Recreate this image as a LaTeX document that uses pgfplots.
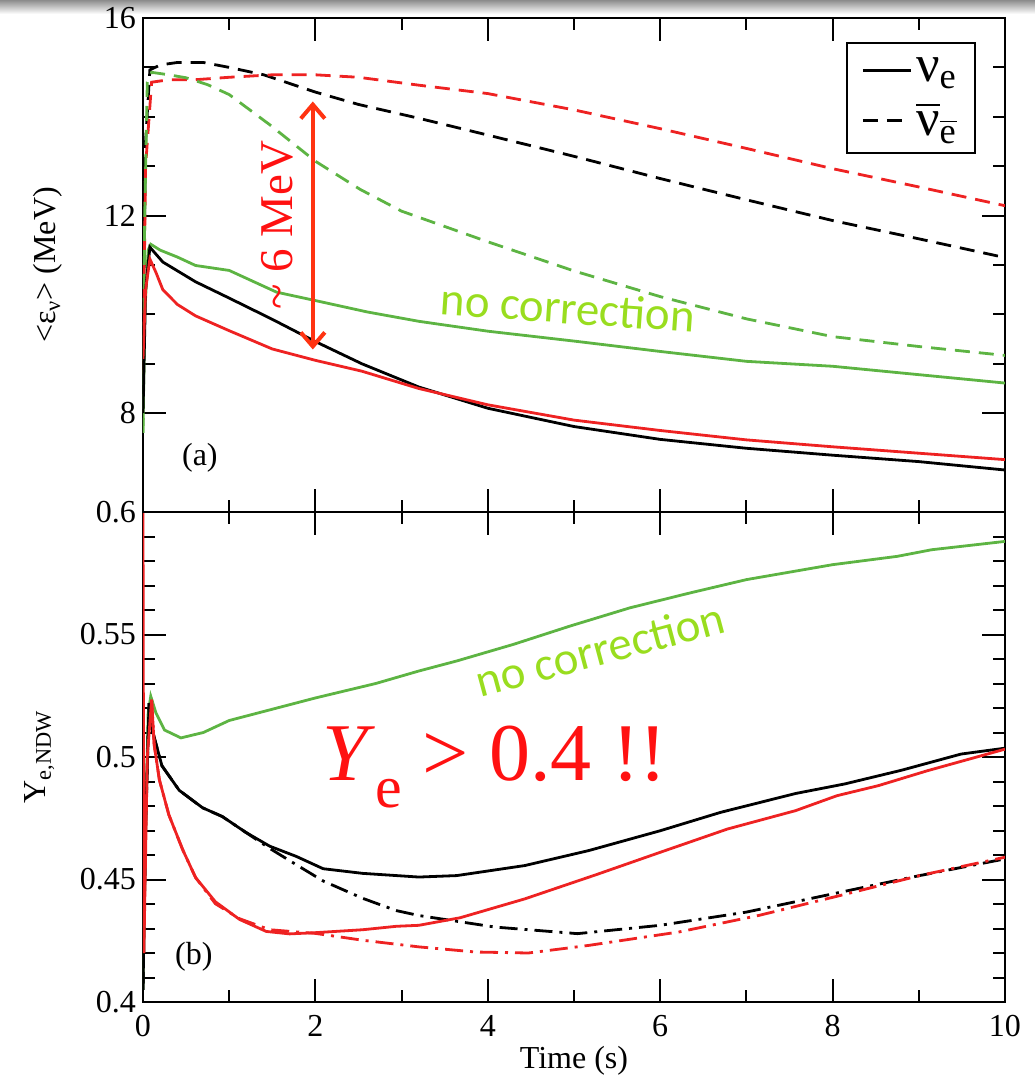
\documentclass[border=0pt]{standalone}
\usepackage{fontspec}
\setmainfont{Liberation Serif}
\newfontfamily\tnr{Liberation Serif}
\newfontfamily\calib{Carlito}
\usepackage{amsmath}
\usepackage{pgfplots}
\pgfplotsset{compat=1.18}
\usetikzlibrary{arrows.meta}
\definecolor{cred}{HTML}{EE2222}
\definecolor{cgreen}{HTML}{5DB443}
\definecolor{nocorr}{HTML}{99DD1F}
\definecolor{arrred}{HTML}{FF3311}
\definecolor{txtred}{HTML}{FF1111}

\pgfplotsset{
  panel/.style={
    scale only axis, width=431pt, xmin=0, xmax=10,
    tick align=inside, tick pos=both,
    xtick={0,2,...,10}, minor x tick num=1,
    major tick length=11.5pt, minor tick length=6pt,
    tick style={black, line width=1pt},
    axis line style={line width=1.25pt},
    ticklabel style={font=\tnr\fontsize{16}{19}\selectfont},
    xticklabel style={yshift=-3pt},
    label style={font=\tnr\fontsize{16}{19}\selectfont},
    every axis plot/.append style={line width=1.4pt},
  },
  dashsty/.style={dash pattern=on 7.5pt off 4.5pt},
  dotsty/.style={dash pattern=on 9pt off 3.5pt on 1.5pt off 3.5pt},
}

\begin{document}
\begin{tikzpicture}
\useasboundingbox (-71.5pt,-41pt) rectangle (446pt,501pt);
\shade[top color=black!45, bottom color=white] (-71.5pt,494pt) rectangle (446pt,501pt);

% (b) electron fraction
\begin{axis}[panel, at={(0,0)}, anchor=south west, height=245pt,
  ymin=0.4, ymax=0.6, ytick={0.4,0.45,0.5,0.55,0.6},
  yticklabels={0.4,0.45,0.5,0.55,0.6}, minor y tick num=4,
  xticklabels={0,2,4,6,8,10},
  xlabel={Time (s)},
  xlabel style={at={(axis description cs:0.5,0)}, anchor=center, yshift=-29.5pt},
  ylabel={Y\textsubscript{e,NDW}},
  ylabel style={at={(axis description cs:-0.12,0.5)}, anchor=center},
]
\addplot[cgreen] coordinates {(0,0.405) (0.03,0.47) (0.06,0.518) (0.09,0.5248) (0.15,0.518) (0.25,0.511) (0.44,0.5078) (0.7,0.510) (1.0,0.5149) (1.5,0.5195) (2.0,0.5241) (2.7,0.530) (3.2,0.5351) (3.64,0.5392) (4.3,0.546) (4.95,0.5534) (5.65,0.5609) (6.35,0.567) (7.0,0.5724) (8.0,0.5785) (8.75,0.5819) (9.15,0.5846) (10,0.588)};
\addplot[black] coordinates {(0,0.405) (0.03,0.47) (0.07,0.522) (0.11,0.5106) (0.22,0.4964) (0.42,0.4864) (0.69,0.4793) (0.92,0.4757) (1.19,0.4693) (1.47,0.4636) (1.78,0.4594) (2.09,0.4544) (2.55,0.4525) (3.2,0.451) (3.64,0.4516) (4.43,0.4557) (5.17,0.4618) (6.0,0.4699) (6.7,0.4774) (7.57,0.4851) (8.14,0.489) (8.8,0.4946) (9.49,0.5012) (10,0.5036)};
\addplot[black, dotsty] coordinates {(0,0.405) (0.03,0.47) (0.07,0.522) (0.11,0.5106) (0.22,0.4964) (0.42,0.4864) (0.69,0.4793) (0.92,0.4757) (1.19,0.4693) (1.47,0.4627) (1.78,0.456) (2.09,0.4494) (2.55,0.4423) (2.94,0.4373) (3.2,0.4353) (4.08,0.4306) (5.04,0.4279) (6.0,0.4313) (7.0,0.4367) (8.01,0.4442) (9.01,0.4516) (10,0.4584)};
\addplot[cred] coordinates {(0,0.6) (0.01,0.42) (0.05,0.50) (0.1,0.5234) (0.13,0.5049) (0.19,0.4907) (0.3,0.4764) (0.46,0.4622) (0.61,0.4508) (0.84,0.4409) (1.12,0.4337) (1.43,0.4288) (1.7,0.4278) (2.0,0.4283) (2.55,0.4295) (2.94,0.4309) (3.2,0.4313) (3.68,0.4344) (4.43,0.4421) (5.26,0.452) (6.0,0.4611) (6.78,0.4706) (7.57,0.4781) (8.05,0.4842) (8.53,0.4883) (9.1,0.4944) (10,0.5032)};
\addplot[cred, dotsty] coordinates {(0.1,0.5234) (0.13,0.5049) (0.19,0.4907) (0.3,0.4764) (0.46,0.4622) (0.61,0.4508) (0.84,0.4401) (1.12,0.434) (1.47,0.4295) (2.0,0.428) (2.55,0.4252) (3.2,0.4225) (3.86,0.4204) (4.47,0.42) (5.17,0.4231) (6.22,0.4286) (7.14,0.4353) (8.01,0.4428) (9.01,0.4516) (10,0.4591)};
\node[font=\tnr\fontsize{16}{19}\selectfont] at (axis cs:0.59,0.4184) {(b)};
\node[rotate=15, text=nocorr, font=\calib\fontsize{23.5}{26}\selectfont] at (axis cs:5.3,0.544) {no correction};
\node[anchor=base west, text=txtred, font=\tnr\fontsize{41}{46}\selectfont, inner sep=0pt] at (axis cs:2.08,0.4906) {\textit{Y}\raisebox{-0.34em}{\fontsize{30}{30}\selectfont e} \char"003E{} 0.4 !!};
\end{axis}

% (a) mean energies
\begin{axis}[panel, at={(0,245pt)}, anchor=south west, height=247pt,
  ymin=6, ymax=16, ytick={8,12,16}, yticklabels={8,12,16}, minor y tick num=3,
  xticklabels={},
  ylabel={\char"003C{}ε\textsubscript{ν}\char"003E{} (MeV)},
  ylabel style={at={(axis description cs:-0.111,0.5)}, anchor=center},
  legend style={at={(rel axis cs:0.816,0.951)}, anchor=north west, draw=black, line width=1pt,
    font=\tnr\fontsize{26}{28}\selectfont, inner xsep=7pt, inner ysep=5pt, row sep=5pt},
  legend cell align=left,
  legend image code/.code={\draw[#1] (0pt,0pt) -- (24pt,0pt);},
]
\addplot[black, dashsty, forget plot] coordinates {(0,9.0) (0.03,13.5) (0.08,14.95) (0.2,15.05) (0.4,15.1) (0.7,15.1) (1.0,15.0) (1.4,14.85) (2.0,14.5) (2.5,14.25) (3.2,13.97) (4,13.63) (5,13.2) (6,12.75) (7,12.32) (8,11.9) (9,11.53) (10,11.15)};
\addplot[cred, dashsty, forget plot] coordinates {(0,8.8) (0.03,13.0) (0.1,14.7) (0.3,14.75) (0.6,14.75) (1.0,14.8) (1.5,14.85) (2.0,14.85) (2.5,14.8) (3.2,14.64) (4,14.47) (5,14.14) (6,13.76) (7,13.36) (8,12.95) (9,12.58) (10,12.2)};
\addplot[cgreen, dashsty, forget plot] coordinates {(0,7.6) (0.02,12) (0.05,14.7) (0.1,14.9) (0.3,14.85) (0.5,14.79) (0.75,14.65) (1.0,14.45) (1.47,13.84) (2.0,13.1) (2.52,12.53) (3.0,12.09) (4,11.47) (5,10.88) (6,10.36) (7,9.91) (8,9.55) (9,9.35) (10,9.17)};
\addplot[cgreen, forget plot] coordinates {(0,7.6) (0.02,10) (0.06,11.3) (0.09,11.42) (0.2,11.3) (0.4,11.16) (0.61,10.99) (1.0,10.89) (1.55,10.45) (2.0,10.28) (2.6,10.05) (3.2,9.86) (4,9.66) (5,9.46) (6,9.25) (7,9.05) (8,8.95) (9,8.78) (10,8.61)};
\addplot[black, forget plot] coordinates {(0,8.0) (0.03,10.5) (0.08,11.36) (0.23,11.06) (0.61,10.66) (1.0,10.33) (1.5,9.9) (2.0,9.45) (2.54,9.0) (3.2,8.53) (4,8.10) (5,7.73) (6,7.47) (7,7.29) (8,7.15) (9,7.02) (10,6.85)};
\addplot[cred, forget plot] coordinates {(0,9.1) (0.03,10.5) (0.08,11.12) (0.15,10.85) (0.23,10.5) (0.4,10.2) (0.61,9.97) (1.0,9.67) (1.5,9.3) (2.0,9.07) (2.54,8.85) (3.2,8.5) (4,8.17) (5,7.86) (6,7.65) (7,7.46) (8,7.32) (9,7.19) (10,7.06)};
\addlegendimage{black, line width=1.4pt}
\addlegendentry{ν\textsubscript{e}}
\addlegendimage{black, line width=1.4pt, dashsty}
\addlegendentry{$\overline{\text{ν}}_{\overline{\text{e}}}$}
\node[font=\tnr\fontsize{16}{19}\selectfont] at (axis cs:0.66,7.09) {(a)};
\node[rotate=-4, text=nocorr, font=\calib\fontsize{23.5}{26}\selectfont] at (axis cs:4.93,10.14) {no correction};
\draw[arrred, line width=2pt, {Straight Barb[length=7pt,width=12pt]}-{Straight Barb[length=7pt,width=12pt]}] (axis cs:1.97,14.31) -- (axis cs:1.97,9.29);
\node[rotate=90, text=txtred, font=\tnr\fontsize{23.5}{26}\selectfont] at (axis cs:1.56,11.8) {\textasciitilde{} 6 MeV};
\end{axis}
\end{tikzpicture}
\end{document}
